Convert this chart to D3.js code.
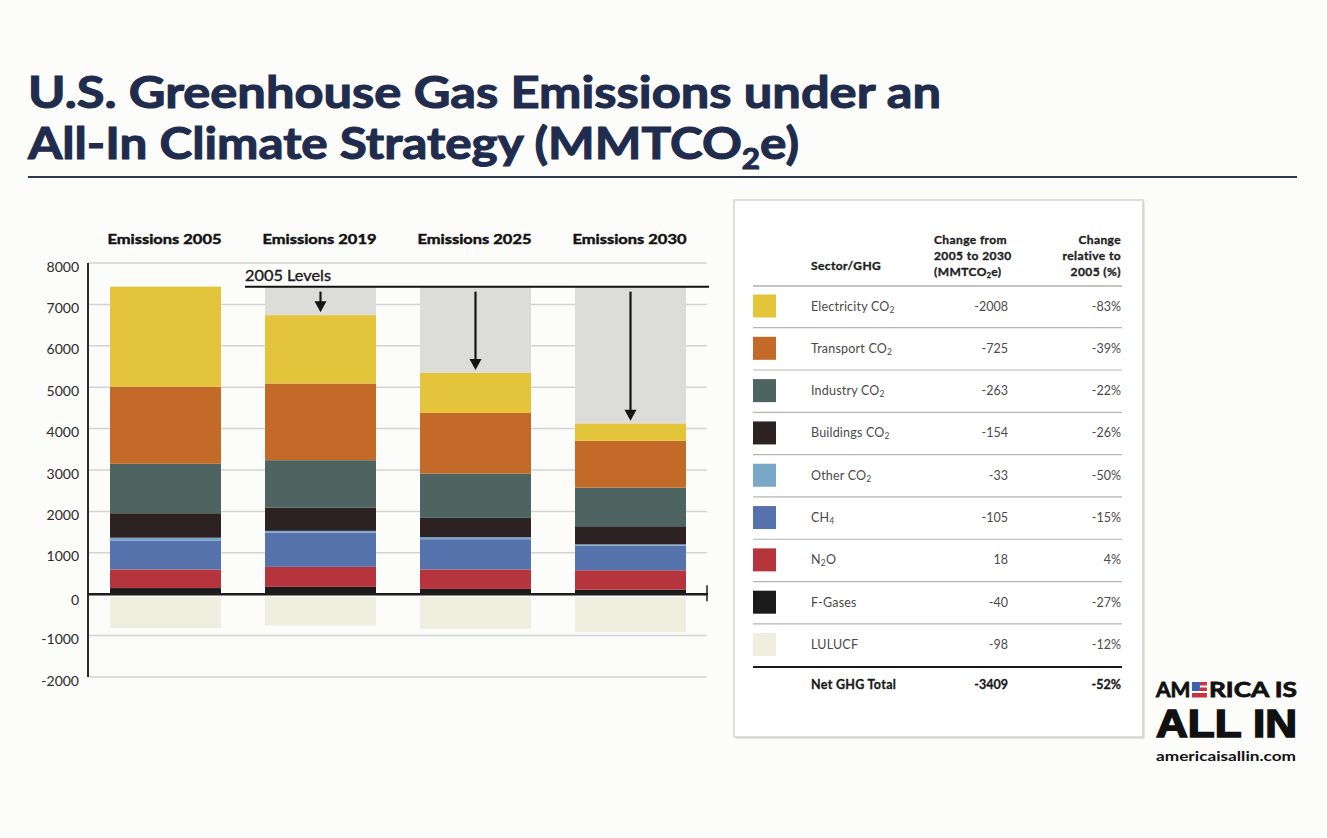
<!DOCTYPE html>
<html><head><meta charset="utf-8">
<script src="https://cdn.jsdelivr.net/npm/d3@7"></script>
<style>
body{margin:0;background:#fcfcfa;overflow:hidden}
svg{display:block;font-family:Lato,"Open Sans",sans-serif}
</style>
</head><body>
<svg id="c" width="1327" height="838"></svg>
<script>
// ---------- DATA ----------
const years = ["2005", "2019", "2025", "2030"];
const columnLabels = ["Emissions 2005", "Emissions 2019", "Emissions 2025", "Emissions 2030"];
const electricity = [2419, 1650, 967, 411];
const transport  = [1859, 1852, 1464, 1134];
const industry   = [1195, 1143, 1072, 932];
const buildings  = [592, 564, 466, 438];
const otherCO2   = [66, 40, 48, 33];
const ch4        = [700, 830, 732, 595];
const n2o        = [450, 483, 469, 468];
const fgases     = [148, 177, 128, 108];
const lulucf     = [-817, -757, -838, -915];
const yTicks = [8000, 7000, 6000, 5000, 4000, 3000, 2000, 1000, 0, -1000, -2000];
const tableSectors = [
  ["Electricity CO", "2"], ["Transport CO", "2"], ["Industry CO", "2"], ["Buildings CO", "2"],
  ["Other CO", "2"], ["CH", "4"], ["N", "2", "O"], ["F-Gases"], ["LULUCF"]
];
const changeMMT = ["-2008", "-725", "-263", "-154", "-33", "-105", "18", "-40", "-98"];
const changePct = ["-83%", "-39%", "-22%", "-26%", "-50%", "-15%", "4%", "-27%", "-12%"];
const netTotal = ["Net GHG Total", "-3409", "-52%"];
const levelLabel = "2005 Levels";

// ---------- STYLE ----------
const stackKeys = ["fgases", "n2o", "ch4", "other", "buildings", "industry", "transport", "electricity"];
const colors = {
  electricity: "#e3c43b", transport: "#c46a28", industry: "#4d6460", buildings: "#2d2223",
  other: "#7aa8c8", ch4: "#5572ac", n2o: "#b6343b", fgases: "#1b1b1b", lulucf: "#eeefdf"
};
const tableColorKeys = ["electricity", "transport", "industry", "buildings", "other", "ch4", "n2o", "fgases", "lulucf"];
const navy = "#1f2c4d";

const svg = d3.select("#c");
svg.append("rect").attr("width", 1327).attr("height", 838).attr("fill", "#fcfcfa");

// ---------- TITLE ----------
svg.append("text").attr("x", 28).attr("y", 108)
  .attr("font-size", 44).attr("font-weight", 700).attr("fill", navy)
  .attr("stroke", navy).attr("stroke-width", 1.1)
  .attr("textLength", 913).attr("lengthAdjust", "spacingAndGlyphs")
  .text("U.S. Greenhouse Gas Emissions under an");
const t2 = svg.append("text").attr("x", 28).attr("y", 159)
  .attr("font-size", 44).attr("font-weight", 700).attr("fill", navy)
  .attr("stroke", navy).attr("stroke-width", 1.1)
  .attr("textLength", 771).attr("lengthAdjust", "spacingAndGlyphs");
t2.append("tspan").text("All-In Climate Strategy (MMTCO");
t2.append("tspan").attr("font-size", 28).attr("dy", 10).text("2");
t2.append("tspan").attr("dy", -10).text("e)");
svg.append("line").attr("x1", 28).attr("x2", 1297).attr("y1", 177).attr("y2", 177)
  .attr("stroke", "#2a3852").attr("stroke-width", 2);

// ---------- CHART ----------
const y = d3.scaleLinear().domain([-2000, 8000]).range([677, 263]);
const x = d3.scaleBand().domain(years).range([88, 708]).paddingInner(0.284).paddingOuter(0.142);

const rows = years.map((yr, i) => ({
  year: yr, electricity: electricity[i], transport: transport[i], industry: industry[i],
  buildings: buildings[i], other: otherCO2[i], ch4: ch4[i], n2o: n2o[i], fgases: fgases[i], lulucf: lulucf[i]
}));
const series = d3.stack().keys(stackKeys)(rows);
const totals = rows.map(r => d3.sum(stackKeys, k => r[k]));
const level2005 = totals[0];

// gridlines
svg.append("g").selectAll("line").data(yTicks.filter(d => d !== 0)).join("line")
  .attr("x1", 88).attr("x2", 707).attr("y1", d => y(d)).attr("y2", d => y(d))
  .attr("stroke", "#d3d3d1").attr("stroke-width", 1.5);

// tick labels
svg.append("g").selectAll("text").data(yTicks).join("text")
  .attr("x", 79).attr("y", d => y(d) + (d === 0 ? 7 : 5))
  .attr("text-anchor", "end").attr("dominant-baseline", "middle")
  .attr("font-size", 14).attr("fill", "#2a2a2a")
  .text(d => d);

// grey gap to 2005 level
svg.append("g").selectAll("rect").data(rows.slice(1)).join("rect")
  .attr("x", d => x(d.year)).attr("width", x.bandwidth())
  .attr("y", y(level2005)).attr("height", (d, i) => y(totals[i + 1]) - y(level2005))
  .attr("fill", "#dcdcd8");

// stacked bars
svg.append("g").selectAll("g").data(series).join("g")
  .attr("fill", s => colors[s.key])
  .selectAll("rect").data(s => s).join("rect")
  .attr("x", d => x(d.data.year)).attr("width", x.bandwidth())
  .attr("y", d => y(d[1])).attr("height", d => y(d[0]) - y(d[1]));

// LULUCF
svg.append("g").selectAll("rect").data(rows).join("rect")
  .attr("x", d => x(d.year)).attr("width", x.bandwidth())
  .attr("y", y(0) + 3).attr("height", d => y(d.lulucf) - y(0) - 3)
  .attr("fill", colors.lulucf);

// axes lines
svg.append("line").attr("x1", 88).attr("x2", 88).attr("y1", y(8000)).attr("y2", y(-2000))
  .attr("stroke", "#2b2b2b").attr("stroke-width", 2);
svg.append("line").attr("x1", 88).attr("x2", 708).attr("y1", y(0)).attr("y2", y(0))
  .attr("stroke", "#1d1d1d").attr("stroke-width", 2.5);
svg.append("line").attr("x1", 707).attr("x2", 707).attr("y1", y(0) - 9).attr("y2", y(0) + 7)
  .attr("stroke", "#1d1d1d").attr("stroke-width", 1.5);

// 2005 level line
svg.append("line").attr("x1", 245).attr("x2", 709).attr("y1", y(level2005)).attr("y2", y(level2005))
  .attr("stroke", "#111").attr("stroke-width", 2);
svg.append("text").attr("x", 245).attr("y", y(level2005) - 6)
  .attr("font-size", 15).attr("font-weight", 400).attr("fill", "#1a1a1a")
  .attr("stroke", "#1a1a1a").attr("stroke-width", 0.35)
  .attr("textLength", 86).attr("lengthAdjust", "spacingAndGlyphs").text(levelLabel);

// arrows
const arrows = svg.append("g");
rows.slice(1).forEach((d, i) => {
  const cx = x(d.year) + x.bandwidth() / 2;
  const top = y(level2005) + 5;
  const tip = y(totals[i + 1]) - 3;
  arrows.append("line").attr("x1", cx).attr("x2", cx).attr("y1", top).attr("y2", tip - 8)
    .attr("stroke", "#151515").attr("stroke-width", 2.2);
  arrows.append("path")
    .attr("d", `M${cx - 6},${tip - 11} L${cx + 6},${tip - 11} L${cx},${tip} Z`)
    .attr("fill", "#151515");
});

// column headers
svg.append("g").selectAll("text").data(years).join("text")
  .attr("x", d => x(d) + x.bandwidth() / 2 - 1).attr("y", 244)
  .attr("text-anchor", "middle").attr("font-size", 14).attr("font-weight", 700)
  .attr("fill", "#111").attr("stroke", "#111").attr("stroke-width", 0.45)
  .attr("textLength", 114).attr("lengthAdjust", "spacingAndGlyphs")
  .text((d, i) => columnLabels[i]);

// ---------- TABLE ----------
const tb = svg.append("g");
tb.append("rect").attr("x", 736).attr("y", 202).attr("width", 409).attr("height", 537)
  .attr("fill", "#e6e6e4");
tb.append("rect").attr("x", 734).attr("y", 200).attr("width", 409).attr("height", 537)
  .attr("fill", "#ffffff").attr("stroke", "#c9c9c7").attr("stroke-width", 1.2);

const hdr = tb.append("g").attr("font-size", 12).attr("font-weight", 700).attr("fill", "#1e1e1e")
  .attr("stroke", "#1e1e1e").attr("stroke-width", 0.35).attr("letter-spacing", 0.4);
hdr.append("text").attr("x", 811).attr("y", 270).text("Sector/GHG");
hdr.append("text").attr("x", 934).attr("y", 244).text("Change from");
hdr.append("text").attr("x", 934).attr("y", 260).text("2005 to 2030");
const h3 = hdr.append("text").attr("x", 934).attr("y", 276);
h3.append("tspan").text("(MMTCO");
h3.append("tspan").attr("font-size", 7).attr("dy", 2).text("2");
h3.append("tspan").attr("dy", -2).text("e)");
hdr.append("text").attr("x", 1121).attr("y", 244).attr("text-anchor", "end").text("Change");
hdr.append("text").attr("x", 1121).attr("y", 260).attr("text-anchor", "end").text("relative to");
hdr.append("text").attr("x", 1121).attr("y", 276).attr("text-anchor", "end").text("2005 (%)");

tb.append("line").attr("x1", 753).attr("x2", 1122).attr("y1", 286).attr("y2", 286)
  .attr("stroke", "#888").attr("stroke-width", 1.2);

const ry = d3.scaleLinear().domain([0, 8]).range([306.5, 645]);
const rowG = tb.append("g").selectAll("g").data(tableSectors).join("g")
  .attr("transform", (d, i) => `translate(0,${ry(i)})`);
rowG.append("rect").attr("x", 753).attr("y", -12).attr("width", 23).attr("height", 23)
  .attr("fill", (d, i) => colors[tableColorKeys[i]]);
const lab = rowG.append("text").attr("x", 811).attr("y", 4).attr("font-size", 12.5)
  .attr("fill", "#4a4a4a").attr("letter-spacing", 0.2);
lab.each(function(parts) {
  const t = d3.select(this);
  parts.forEach((p, j) => {
    const isSub = /^[0-9]$/.test(p);
    const sp = t.append("tspan").text(p);
    if (isSub) sp.attr("font-size", 8.5).attr("dy", 2);
    else if (j > 0) sp.attr("dy", -2);
  });
});
rowG.append("text").attr("x", 1008).attr("y", 4).attr("text-anchor", "end")
  .attr("font-size", 12.5).attr("fill", "#4a4a4a").text((d, i) => changeMMT[i]);
rowG.append("text").attr("x", 1121).attr("y", 4).attr("text-anchor", "end")
  .attr("font-size", 12.5).attr("fill", "#4a4a4a").text((d, i) => changePct[i]);
rowG.filter((d, i) => i < 8).append("line")
  .attr("x1", 753).attr("x2", 1122).attr("y1", 21.2).attr("y2", 21.2)
  .attr("stroke", "#b5b5b5").attr("stroke-width", 1.2);

tb.append("line").attr("x1", 753).attr("x2", 1122).attr("y1", 667).attr("y2", 667)
  .attr("stroke", "#1a1a1a").attr("stroke-width", 2.2);
const tot = tb.append("g").attr("font-size", 12.5).attr("font-weight", 700).attr("fill", "#1a1a1a")
  .attr("stroke", "#1a1a1a").attr("stroke-width", 0.3);
tot.append("text").attr("x", 811).attr("y", 689).attr("letter-spacing", 0.3).text(netTotal[0]);
tot.append("text").attr("x", 1008).attr("y", 689).attr("text-anchor", "end").text(netTotal[1]);
tot.append("text").attr("x", 1121).attr("y", 689).attr("text-anchor", "end").text(netTotal[2]);

// ---------- LOGO ----------
const lg = svg.append("g").attr("fill", "#111").attr("font-weight", 700);
const am = lg.append("text").attr("x", 1156).attr("y", 697).attr("font-size", 21)
  .attr("stroke", "#111").attr("stroke-width", 0.8).text("AM");
const amW = am.node().getComputedTextLength();
const ex = 1156 + amW + 1.5;
// flag "E"
lg.append("rect").attr("x", ex).attr("y", 682).attr("width", 8).attr("height", 9).attr("fill", "#3b63b0");
lg.append("rect").attr("x", ex + 8).attr("y", 682).attr("width", 7).attr("height", 3.5).attr("fill", "#c8343b");
lg.append("rect").attr("x", ex + 8).attr("y", 687.5).attr("width", 7).attr("height", 3.5).attr("fill", "#c8343b");
lg.append("rect").attr("x", ex).attr("y", 693).attr("width", 15).attr("height", 4.5).attr("fill", "#c8343b");
lg.append("text").attr("x", ex + 17).attr("y", 697).attr("font-size", 21)
  .attr("stroke", "#111").attr("stroke-width", 0.8)
  .attr("textLength", 1297 - (ex + 17)).attr("lengthAdjust", "spacingAndGlyphs").text("RICA IS");
lg.append("text").attr("x", 1156).attr("y", 737).attr("font-size", 39)
  .attr("font-family", "'Liberation Sans', Arial, sans-serif")
  .attr("stroke", "#111").attr("stroke-width", 1.6)
  .attr("textLength", 141).attr("lengthAdjust", "spacingAndGlyphs").text("ALL IN");
lg.append("text").attr("x", 1156).attr("y", 761).attr("font-size", 14).attr("font-weight", 700)
  .attr("textLength", 140).attr("lengthAdjust", "spacingAndGlyphs").text("americaisallin.com");
</script>
</body></html>
